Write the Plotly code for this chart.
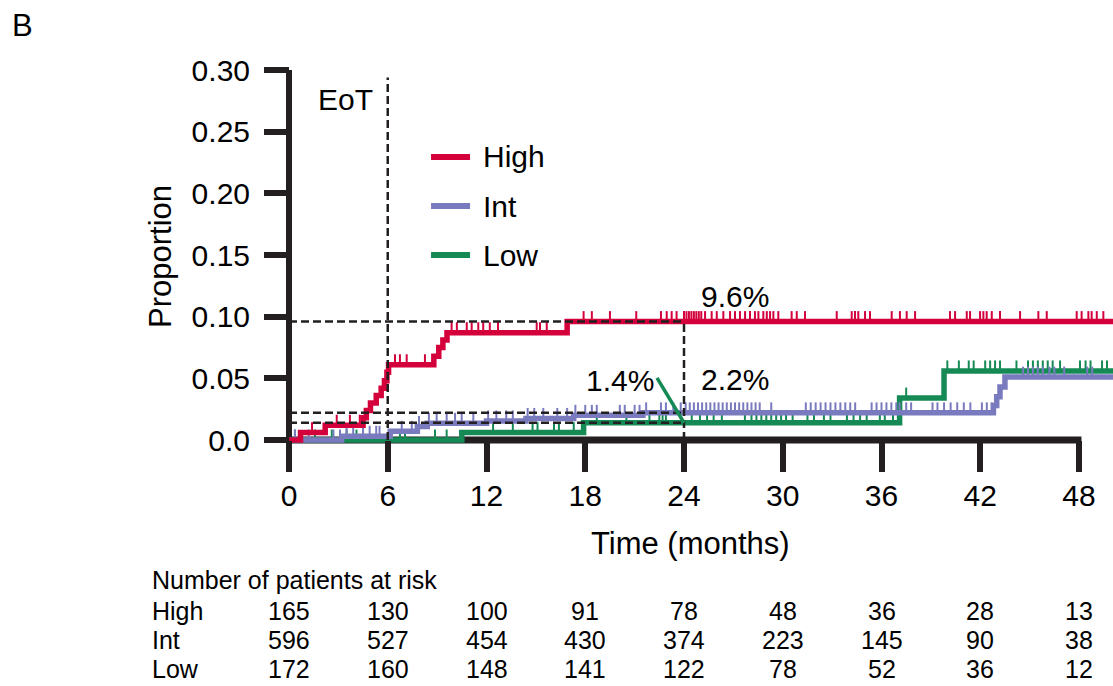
import numpy as np
import plotly.graph_objects as go

# ---------------- data ----------------
x_ticks = [0, 6, 12, 18, 24, 30, 36, 42, 48]
y_ticks = [0, 0.05, 0.10, 0.15, 0.20, 0.25, 0.30]
y_ticktext = ["0.0", "0.05", "0.10", "0.15", "0.20", "0.25", "0.30"]

groups = ["High", "Int", "Low"]

high_t = [0, 0.7, 2.2, 4.5, 4.7, 4.95, 5.3, 5.6, 5.8, 5.95, 6.05, 8.8, 9.1, 9.35, 9.6, 16.9, 50.2]
high_y = [0, 0.006, 0.012, 0.018, 0.024, 0.030, 0.036, 0.042, 0.048, 0.055, 0.061, 0.068, 0.075, 0.081, 0.087, 0.096, 0.096]
high_cens = [1.4, 2.9, 3.7, 4.3, 6.44, 6.74, 7.15, 8.26, 9.88, 10.2, 10.8, 11.1, 11.5, 11.8, 12.2, 12.7,
             15.05, 15.25, 15.66, 17.9, 18.4, 19.5, 21.1, 22.6, 22.95, 23.25, 23.55, 24.0, 24.15, 24.3,
             24.45, 24.6, 24.75, 24.9, 25.05, 25.28, 25.68, 25.99, 26.39, 26.8, 27.1, 27.4, 27.71, 28.01,
             28.31, 28.52, 28.82, 29.03, 29.23, 29.43, 29.73, 30.54, 30.85, 31.35, 33.28, 34.19, 34.39,
             34.59, 35.0, 35.3, 36.62, 37.12, 37.53, 38.04, 40.16, 40.47, 41.18, 41.38, 41.99, 42.19,
             42.39, 42.7, 43.2, 44.42, 45.53, 46.04, 47.86, 48.16, 48.57, 48.77, 49.08, 49.48]

int_t = [0, 3.2, 6.15, 7.8, 8.4, 12.0, 14.4, 17.3, 21.5, 42.8, 43.0, 43.2, 43.5, 50.2]
int_y = [0, 0.003, 0.007, 0.011, 0.0135, 0.0155, 0.0175, 0.020, 0.022, 0.028, 0.035, 0.043, 0.051, 0.051]
int_cens = [0.36, 1.2, 2.7, 3.1, 3.5, 3.9, 4.5, 4.9, 5.3, 5.5, 6.85, 7.46, 7.9, 8.5, 8.97, 9.58, 10.09,
            10.49, 11.2, 12.1, 12.6, 13.2, 13.6, 14.5, 14.9, 15.45, 16.3, 16.9, 17.4, 18.0, 18.4, 18.7,
            20.1, 20.4, 21.0, 21.3, 21.7, 22.6, 22.9, 23.35, 23.8, 24.1, 24.35, 24.6, 24.85, 25.1, 25.35,
            25.6, 25.85, 26.1, 26.35, 26.6, 26.85, 27.1, 27.35, 27.6, 27.85, 28.1, 28.35, 28.6, 29.3,
            31.4, 31.7, 32.0, 32.3, 32.6, 32.9, 33.2, 33.5, 33.8, 34.1, 34.4, 35.4, 35.7, 36.0, 36.3,
            36.6, 36.9, 37.1, 37.5, 37.8, 39.1, 39.4, 39.8, 40.2, 40.6, 41.0, 41.4, 42.1, 42.4, 42.7,
            44.6, 44.9, 45.2, 45.5, 45.8, 46.2, 46.5, 47.1, 48.5, 48.8]

low_t = [0, 10.5, 17.9, 37.1, 39.8, 50.2]
low_y = [0, 0.006, 0.014, 0.034, 0.056, 0.056]
low_cens = [0.36, 1.58, 2.6, 3.5, 4.1, 6.74, 7.05, 8.87, 9.58, 12.4, 13.6, 14.8, 15.1, 16.1, 16.4, 17.3,
            18.7, 20.5, 21.9, 22.5, 22.7, 22.9, 24.47, 24.97, 25.4, 25.8, 26.3, 27.7, 28.1, 28.4, 28.7,
            29.0, 29.3, 29.6, 29.9, 30.2, 30.6, 31.5, 31.9, 32.5, 32.9, 33.9, 34.3, 34.7, 35.1, 35.9,
            36.2, 36.7, 37.5, 40.0, 40.7, 41.3, 41.6, 42.3, 42.6, 42.9, 43.2, 44.2, 44.9, 45.2, 45.5,
            45.8, 46.1, 46.4, 46.85, 48.06, 48.4, 48.7, 49.4, 49.7]

# landmark estimates (dashed reference lines)
eot_month = 6
landmark_month = 24
landmark_high = 0.096
landmark_int = 0.022
landmark_low = 0.014
landmark_labels = ["9.6%", "2.2%", "1.4%"]

# number at risk
risk_high = [165, 130, 100, 91, 78, 48, 36, 28, 13]
risk_int = [596, 527, 454, 430, 374, 223, 145, 90, 38]
risk_low = [172, 160, 148, 141, 122, 78, 52, 36, 12]

# ---------------- styles / layout geometry ----------------
RED = "#D3003C"
PURPLE = "#7A7ABF"
GREEN = "#158A55"
INK = "#231F20"
FONT = "Arial, Liberation Sans, sans-serif"

W, H = 1113, 686
ML, MR, MT, MB = 250, 0, 60, 236
PW, PH = W - ML - MR, H - MT - MB
X_ORIGIN_PX, X_PER_MONTH = 289, (1079 - 289) / 48.0
Y_ORIGIN_PX, Y_PER_UNIT = 440, (440 - 70) / 0.30
x0 = (ML - X_ORIGIN_PX) / X_PER_MONTH
x1 = (W - MR - X_ORIGIN_PX) / X_PER_MONTH
y0 = -((H - MB) - Y_ORIGIN_PX) / Y_PER_UNIT
y1 = (Y_ORIGIN_PX - MT) / Y_PER_UNIT


def pxp(px, py):
    return (px - ML) / PW, ((H - MB) - py) / PH


TICK_H = 0.0085


def step_value(t, y, c):
    idx = np.searchsorted(np.asarray(t), np.asarray(c), side="right") - 1
    return np.asarray(y)[idx]


def censor_segments(t, y, cens):
    vals = step_value(t, y, cens)
    xs, ys = [], []
    for c, v in zip(cens, vals):
        xs += [c, c, None]
        ys += [v, v + TICK_H, None]
    return xs, ys


fig = go.Figure()

series = [("Low", low_t, low_y, low_cens, GREEN),
          ("Int", int_t, int_y, int_cens, PURPLE),
          ("High", high_t, high_y, high_cens, RED)]
for name, t, y, cens, col in series:
    fig.add_trace(go.Scatter(x=t, y=y, mode="lines", line=dict(color=col, width=5.5, shape="hv"),
                             name=name, showlegend=False, hoverinfo="skip"))
    cx, cy = censor_segments(t, y, cens)
    fig.add_trace(go.Scatter(x=cx, y=cy, mode="lines", line=dict(color=col, width=2),
                             showlegend=False, hoverinfo="skip"))

dash_style = dict(color=INK, width=2.5, dash="8px,4px")
fig.add_trace(go.Scatter(x=[eot_month, eot_month], y=[0, 0.294], mode="lines", line=dash_style,
                         showlegend=False, hoverinfo="skip"))
fig.add_trace(go.Scatter(x=[landmark_month, landmark_month], y=[0, landmark_high], mode="lines",
                         line=dash_style, showlegend=False, hoverinfo="skip"))
for v in [landmark_high, landmark_int, landmark_low]:
    fig.add_trace(go.Scatter(x=[0, landmark_month], y=[v, v], mode="lines", line=dash_style,
                             showlegend=False, hoverinfo="skip"))

shapes = []
# axis lines
shapes.append(dict(type="line", xref="x", yref="y", x0=0, x1=48.15, y0=0, y1=0,
                   line=dict(color=INK, width=7), layer="below"))
shapes.append(dict(type="line", xref="x", yref="y", x0=0, x1=0, y0=0, y1=0.30,
                   line=dict(color=INK, width=6), layer="below"))
# green pointer for 1.4%
shapes.append(dict(type="line", xref="x", yref="y", x0=22.36, y0=0.0503, x1=landmark_month, y1=landmark_low,
                   line=dict(color=GREEN, width=3.5), layer="above"))
# legend samples
leg_y = [0.2295, 0.1897, 0.150]
for yy, col in zip(leg_y, [RED, PURPLE, GREEN]):
    shapes.append(dict(type="line", xref="x", yref="y", x0=8.63, x1=11.0, y0=yy, y1=yy,
                       line=dict(color=col, width=6), layer="above"))

ann = []
txt = dict(family=FONT, size=30, color="black")
for yy, g in zip(leg_y, groups):
    ann.append(dict(x=11.65, y=yy, xref="x", yref="y", text=g, showarrow=False, xanchor="left",
                    yanchor="middle", font=txt))
ann.append(dict(x=eot_month - 0.75, y=0.276, xref="x", yref="y", text="EoT", showarrow=False,
                xanchor="right", yanchor="middle", font=txt))
ann.append(dict(x=27.1, y=0.116, xref="x", yref="y", text=landmark_labels[0], showarrow=False,
                xanchor="center", yanchor="middle", font=txt))
ann.append(dict(x=27.1, y=0.049, xref="x", yref="y", text=landmark_labels[1], showarrow=False,
                xanchor="center", yanchor="middle", font=txt))
ann.append(dict(x=20.1, y=0.048, xref="x", yref="y", text=landmark_labels[2], showarrow=False,
                xanchor="center", yanchor="middle", font=txt))

px_, py_ = pxp(22, 25)
ann.append(dict(x=px_, y=py_, xref="paper", yref="paper", text="B", showarrow=False,
                xanchor="center", yanchor="middle", font=dict(family=FONT, size=31, color="black")))
px_, py_ = pxp(160, 257)
ann.append(dict(x=px_, y=py_, xref="paper", yref="paper", text="Proportion", showarrow=False,
                textangle=-90, xanchor="center", yanchor="middle",
                font=dict(family=FONT, size=31, color="black")))
px_, py_ = pxp(690, 543)
ann.append(dict(x=px_, y=py_, xref="paper", yref="paper", text="Time (months)", showarrow=False,
                xanchor="center", yanchor="middle", font=dict(family=FONT, size=31, color="black")))

tfont = dict(family=FONT, size=25, color="black")
px_, py_ = pxp(150, 580)
ann.append(dict(x=px_, y=py_, xref="paper", yref="paper", text="Number of patients at risk",
                showarrow=False, xanchor="left", yanchor="middle", font=tfont))
for g, row, rpy in zip(groups, [risk_high, risk_int, risk_low], [611, 640, 669]):
    px_, py_ = pxp(150, rpy)
    ann.append(dict(x=px_, y=py_, xref="paper", yref="paper", text=g, showarrow=False,
                    xanchor="left", yanchor="middle", font=tfont))
    for m, n in zip(x_ticks, row):
        ann.append(dict(x=m, y=py_, xref="x", yref="paper", text=str(n), showarrow=False,
                        xanchor="center", yanchor="middle", font=tfont))

fig.update_layout(
    width=W, height=H,
    margin=dict(l=ML, r=MR, t=MT, b=MB, pad=0),
    paper_bgcolor="white", plot_bgcolor="white",
    shapes=shapes, annotations=ann,
    showlegend=False,
    xaxis=dict(range=[x0, x1], anchor="free", position=-y0 / (y1 - y0),
               tickvals=x_ticks, ticktext=[str(v) for v in x_ticks],
               ticks="outside", ticklen=31, tickwidth=6, tickcolor=INK,
               showline=False, showgrid=False, zeroline=False,
               tickfont=dict(family=FONT, size=30, color="black"), ticklabelstandoff=-2),
    yaxis=dict(range=[y0, y1], anchor="free", position=-x0 / (x1 - x0),
               tickvals=y_ticks, ticktext=y_ticktext,
               ticks="outside", ticklen=25, tickwidth=6, tickcolor=INK,
               showline=False, showgrid=False, zeroline=False,
               tickfont=dict(family=FONT, size=30, color="black"), ticklabelstandoff=8),
)

fig.write_html("out.html", config={"displayModeBar": False},
               post_script="document.body.style.margin='0';document.body.style.padding='0';")
